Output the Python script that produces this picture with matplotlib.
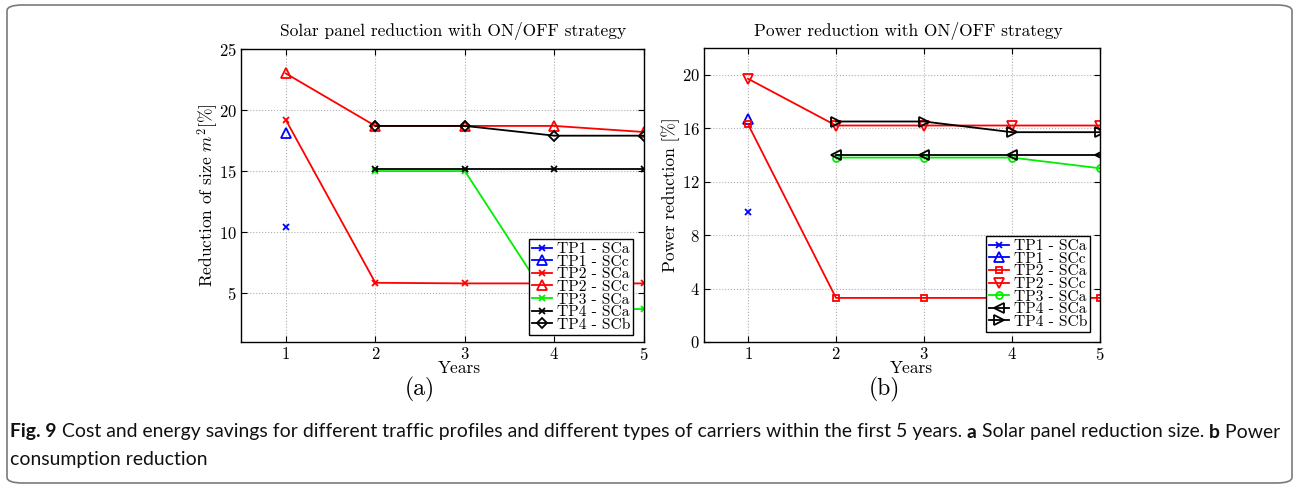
import numpy as np
import matplotlib
matplotlib.use('Agg')
import matplotlib.pyplot as plt
from matplotlib.patches import FancyBboxPatch

plt.rcParams['mathtext.fontset'] = 'cm'
plt.rcParams['axes.formatter.use_mathtext'] = True

years = [1, 2, 3, 4, 5]
nan = np.nan

# (a) Solar panel reduction size [%]
a_tp1_sca = [10.4, nan, nan, nan, nan]
a_tp1_scc = [18.1, nan, nan, nan, nan]
a_tp2_sca = [19.2, 5.85, 5.8, 5.8, 5.8]
a_tp2_scc = [23.0, 18.7, 18.7, 18.7, 18.2]
a_tp3_sca = [nan, 15.0, 15.0, 3.7, 3.7]
a_tp4_sca = [nan, 15.2, 15.2, 15.2, 15.2]
a_tp4_scb = [nan, 18.7, 18.7, 17.9, 17.9]

# (b) Power reduction [%]
b_tp1_sca = [9.7, nan, nan, nan, nan]
b_tp1_scc = [16.7, nan, nan, nan, nan]
b_tp2_sca = [16.3, 3.3, 3.3, 3.3, 3.3]
b_tp2_scc = [19.7, 16.2, 16.2, 16.2, 16.2]
b_tp3_sca = [nan, 13.8, 13.8, 13.8, 13.0]
b_tp4_sca = [nan, 14.0, 14.0, 14.0, 14.0]
b_tp4_scb = [nan, 16.5, 16.5, 15.7, 15.7]

labels = ['TP1 - SCa', 'TP1 - SCc', 'TP2 - SCa', 'TP2 - SCc',
          'TP3 - SCa', 'TP4 - SCa', 'TP4 - SCb']
colors = ['#0000ff', '#0000ff', '#ff0000', '#ff0000', '#00ee00', 'black', 'black']

serif = 'cmr10'

fig = plt.figure(figsize=(12.94, 4.84), dpi=100)
W, H = 1294, 484

# outer frame
fig.patches.append(FancyBboxPatch((7 / W, 1 - 483 / H), 1285 / W, 478 / H,
                                  boxstyle='round,pad=0,rounding_size=0.012',
                                  transform=fig.transFigure, fill=False,
                                  edgecolor='#7a7a7a', linewidth=1.2))

ax1 = fig.add_axes([241 / W, 1 - 342 / H, 403 / W, 293 / H])
ax2 = fig.add_axes([704 / W, 1 - 342 / H, 396 / W, 294 / H])


def style_axes(ax):
    ax.grid(True, linestyle=':', color='#b0b0b0', linewidth=0.8)
    ax.tick_params(direction='in', top=True, right=True, length=4,
                   labelsize=12, pad=3)
    for lbl in ax.get_xticklabels() + ax.get_yticklabels():
        lbl.set_fontfamily(serif)
    for sp in ax.spines.values():
        sp.set_linewidth(1.0)


def add_legend(ax, anchor):
    leg = ax.legend(loc='lower right', bbox_to_anchor=anchor,
                    prop={'family': serif, 'size': 11.2}, labelspacing=-0.08,
                    handlelength=1.3, handletextpad=0.3, borderpad=0.2,
                    borderaxespad=0, fancybox=False, framealpha=1,
                    edgecolor='black')
    leg.get_frame().set_linewidth(1.0)
    return leg


# panel (a)
a_series = [a_tp1_sca, a_tp1_scc, a_tp2_sca, a_tp2_scc, a_tp3_sca, a_tp4_sca, a_tp4_scb]
a_markers = ['x', '^', 'x', '^', 'x', 'x', 'D']
for vals, m, c, lab in zip(a_series, a_markers, colors, labels):
    ms = 5 if m == 'D' else (4 if m == 'x' else 7)
    ax1.plot(years, vals, marker=m, color=c, linewidth=1.3, markersize=ms,
             markerfacecolor='none', markeredgewidth=1.3, label=lab)
ax1.set_xlim(0.5, 5)
ax1.set_ylim(1, 25)
ax1.set_xticks([1, 2, 3, 4, 5])
ax1.set_yticks([5, 10, 15, 20, 25])
style_axes(ax1)
ax1.set_title('Solar panel reduction with ON/OFF strategy', fontfamily=serif,
              fontsize=12.5, pad=9, x=0.525)
ax1.set_xlabel('Years', fontfamily=serif, fontsize=12.5)
ax1.xaxis.set_label_coords(0.541, -0.063)
ax1.set_ylabel(r'Reduction of size $m^2$[%]', fontfamily=serif, fontsize=12.5,
               labelpad=-1)
add_legend(ax1, (0.973, 0.024))

# panel (b)
b_series = [b_tp1_sca, b_tp1_scc, b_tp2_sca, b_tp2_scc, b_tp3_sca, b_tp4_sca, b_tp4_scb]
b_markers = ['x', '^', 's', 'v', 'o', '<', '>']
for vals, m, c, lab in zip(b_series, b_markers, colors, labels):
    ms = 4 if m == 'x' else (5 if m in ('s', 'o') else 7)
    ax2.plot(years, vals, marker=m, color=c, linewidth=1.3, markersize=ms,
             markerfacecolor='none', markeredgewidth=1.3, label=lab)
ax2.set_xlim(0.5, 5)
ax2.set_ylim(0, 22)
ax2.set_xticks([1, 2, 3, 4, 5])
ax2.set_yticks([0, 4, 8, 12, 16, 20])
style_axes(ax2)
ax2.set_title('Power reduction with ON/OFF strategy', fontfamily=serif,
              fontsize=12.5, pad=9, x=0.516)
ax2.set_xlabel('Years', fontfamily=serif, fontsize=12.5)
ax2.xaxis.set_label_coords(0.523, -0.063)
ax2.set_ylabel('Power reduction [%]', fontfamily=serif, fontsize=12.5, labelpad=1)
add_legend(ax2, (0.975, 0.034))

# sub-figure labels
fig.text(420 / W, 1 - 389 / H, '(a)', fontfamily=serif, fontsize=17,
         ha='center', va='center')
fig.text(884 / W, 1 - 389 / H, '(b)', fontfamily=serif, fontsize=17,
         ha='center', va='center')

# caption with mixed bold pieces, sized to fill the line width
cap_font = ['Lato', 'DejaVu Sans']
line1 = [('Fig. 9', 'bold'),
         (' Cost and energy savings for different traffic profiles and different '
          'types of carriers within the first 5 years. ', 'normal'),
         ('a', 'bold'), (' Solar panel reduction size. ', 'normal'),
         ('b', 'bold'), (' Power', 'normal')]
renderer = fig.canvas.get_renderer()
base = 13.5
total = 0
for txt, w in line1:
    t = fig.text(0, 0, txt, fontfamily=cap_font, fontweight=w, fontsize=base)
    total += t.get_window_extent(renderer=renderer).width
    t.remove()
size = min(base * 1270 / total, 15)
x = 10 / W
for txt, w in line1:
    t = fig.text(x, 1 - 432 / H, txt, fontfamily=cap_font, fontweight=w,
                 fontsize=size, va='center', ha='left', color='#111111')
    x += t.get_window_extent(renderer=renderer).width / W
fig.text(10 / W, 1 - 459 / H, 'consumption reduction', fontfamily=cap_font,
         fontsize=size, va='center', ha='left', color='#111111')

fig.savefig('out.png', dpi=100)
plt.close(fig)
